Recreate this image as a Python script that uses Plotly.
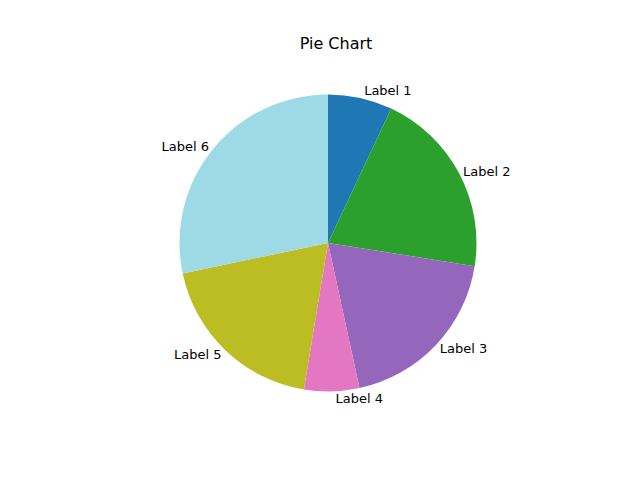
import plotly.graph_objects as go

labels = ["Label 1", "Label 2", "Label 3", "Label 4", "Label 5", "Label 6"]
values = [7.0, 20.5, 19.1, 6.0, 19.1, 28.3]
colors = ["#1f77b4", "#2ca02c", "#9467bd", "#e377c2", "#bcbd22", "#9edae5"]

fig = go.Figure(go.Pie(
    labels=labels,
    values=values,
    text=labels,
    textinfo="text",
    textposition="outside",
    sort=False,
    direction="clockwise",
    rotation=0,
    marker=dict(colors=colors, line=dict(width=0)),
    textfont=dict(family="DejaVu Sans", size=13, color="black"),
    domain=dict(x=[0.268, 0.732], y=[0.196, 0.825]),
    showlegend=False,
    hoverinfo="label+percent",
))

fig.update_layout(
    width=640, height=480,
    margin=dict(l=0, r=0, t=0, b=0),
    paper_bgcolor="white",
    plot_bgcolor="white",
    title=dict(text="Pie Chart", x=0.5125, xanchor="center", y=1 - 35 / 480, yanchor="middle",
               font=dict(family="DejaVu Sans", size=16, color="black")),
)

fig.write_html("out.html")
